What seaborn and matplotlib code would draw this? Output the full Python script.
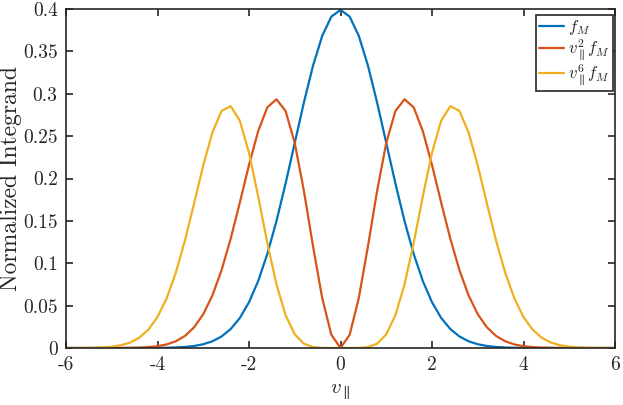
import matplotlib
matplotlib.use("Agg")
import matplotlib.pyplot as plt
import seaborn as sns
import pandas as pd

# velocity grid along the x axis, -6..6 in steps of 0.2
v_half = [0.0, 0.2, 0.4, 0.6, 0.8, 1.0, 1.2, 1.4, 1.6, 1.8, 2.0, 2.2, 2.4, 2.6, 2.8, 3.0,
          3.2, 3.4, 3.6, 3.8, 4.0, 4.2, 4.4, 4.6, 4.8, 5.0, 5.2, 5.4, 5.6, 5.8, 6.0]

# one half of each (symmetric) curve, v = 0 .. 6
fm_half = [0.39894, 0.39104, 0.36827, 0.33322, 0.28969, 0.24197, 0.19419, 0.14973,
           0.11092, 0.07895, 0.05399, 0.03548, 0.02240, 0.01358, 0.00792, 0.00443,
           0.00238, 0.00123, 0.00061, 0.00029, 0.00013, 0.00006, 0.00002, 0.00001,
           0.0, 0.0, 0.0, 0.0, 0.0, 0.0, 0.0]
v2fm_half = [0.0, 0.01564, 0.05892, 0.11996, 0.18540, 0.24197, 0.27963, 0.29347,
             0.28396, 0.25580, 0.21596, 0.17170, 0.12900, 0.09182, 0.06205, 0.03989,
             0.02441, 0.01424, 0.00793, 0.00422, 0.00214, 0.00104, 0.00048, 0.00022,
             0.00009, 0.00004, 0.00001, 0.00001, 0.0, 0.0, 0.0]
v6fm_half = [0.0, 0.0, 0.00010, 0.00104, 0.00506, 0.01613, 0.03866, 0.07516,
             0.12406, 0.17902, 0.23036, 0.26814, 0.28532, 0.27973, 0.25428, 0.21540,
             0.17065, 0.12688, 0.08881, 0.05862, 0.03655, 0.02156, 0.01206, 0.00641,
             0.00323, 0.00155, 0.00071, 0.00031, 0.00013, 0.00005, 0.00002]

labels = [r"$f_M$", r"$v_\parallel^2 f_M$", r"$v_\parallel^6 f_M$"]
colors = ["#0072BD", "#D95319", "#EDB120"]

# mirror the halves to get the full curves on -6..6
v_par = [-v for v in v_half[:0:-1]] + v_half
rows = []
for lab, half in zip(labels, [fm_half, v2fm_half, v6fm_half]):
    full = half[:0:-1] + half
    for v, y in zip(v_par, full):
        rows.append({"v": v, "y": y, "curve": lab})
df = pd.DataFrame(rows)

sns.set_style("ticks")
plt.rcParams["font.family"] = "serif"
plt.rcParams["font.serif"] = ["cmr10", "DejaVu Serif"]
plt.rcParams["mathtext.fontset"] = "cm"
plt.rcParams["axes.formatter.use_mathtext"] = True

ink = "#262626"
fig = plt.figure(figsize=(6.23, 4.05), dpi=100)
ax = fig.add_axes([66 / 623, 1 - 348 / 405, (615 - 66) / 623, (348 - 9) / 405])

sns.lineplot(data=df, x="v", y="y", hue="curve", palette=colors, linewidth=1.6,
             ax=ax, legend=False)

ax.set_xlim(-6, 6)
ax.set_ylim(0, 0.4)
xt = [-6, -4, -2, 0, 2, 4, 6]
yt = [0, 0.05, 0.1, 0.15, 0.2, 0.25, 0.3, 0.35, 0.4]
ax.set_xticks(xt)
ax.set_xticklabels([str(t) for t in xt])
ax.set_yticks(yt)
ax.set_yticklabels(["0", "0.05", "0.1", "0.15", "0.2", "0.25", "0.3", "0.35", "0.4"])
ax.tick_params(direction="in", length=5, width=1.2, colors=ink, labelsize=14, pad=6,
               top=True, right=True)
for s in ax.spines.values():
    s.set_visible(True)
    s.set_linewidth(1.2)
    s.set_color(ink)

ax.set_xlabel(r"$v_\parallel$", fontsize=15, color=ink, labelpad=6)
ax.set_ylabel("Normalized Integrand", fontsize=17, color=ink)
ax.yaxis.set_label_coords(-0.081, 0.5)

handles = [plt.Line2D([], [], color=c, linewidth=1.6) for c in colors]
leg = ax.legend(handles, labels, loc="upper right",
                bbox_to_anchor=((613 - 66) / 549, (348 - 15) / 339),
                fontsize=12, frameon=True, fancybox=False, edgecolor=ink,
                framealpha=1, handlelength=1.5, handletextpad=0.25, borderpad=0.2,
                labelspacing=0.0, borderaxespad=0)
leg.get_frame().set_linewidth(1.2)

fig.savefig("out.png", dpi=100)
